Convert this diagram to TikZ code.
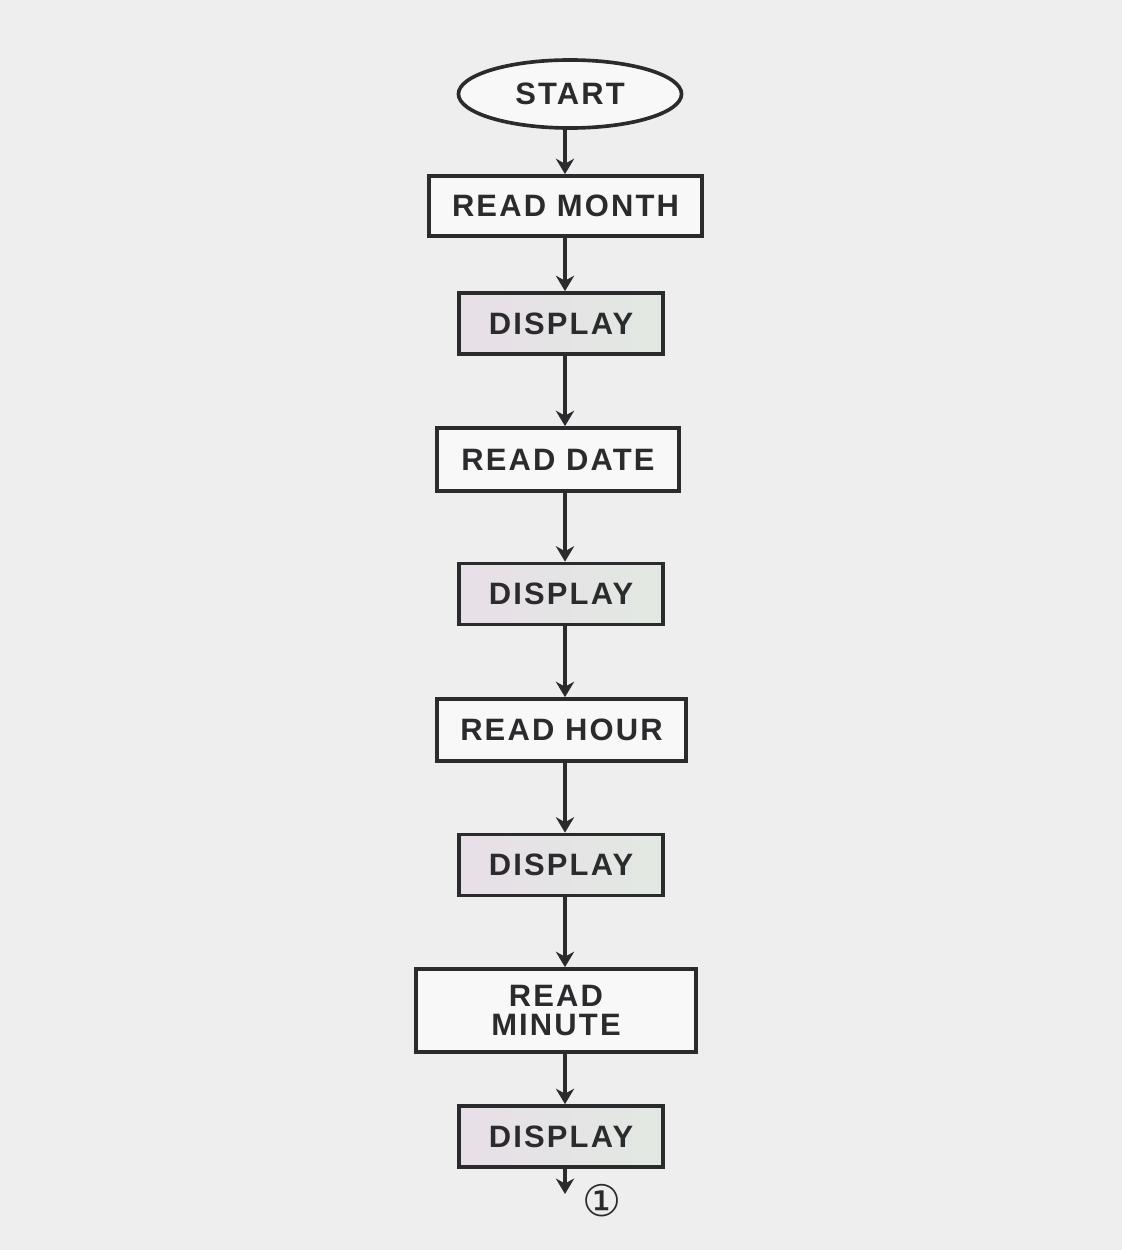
\documentclass[tikz,border=0pt]{standalone}
\usepackage{fontspec}
\setmainfont{Liberation Sans}
\newfontfamily\symfont{DejaVu Sans}
\usetikzlibrary{positioning,shapes.geometric,arrows.meta}
\tikzset{>={Stealth[length=11pt,width=13pt]}}
\definecolor{paper}{HTML}{EFEEEF}
\definecolor{ink}{HTML}{2B2B2E}
\definecolor{displ}{HTML}{E8DFE8}
\definecolor{dispr}{HTML}{E2E9E2}
\tikzset{
  lbl/.style={text=ink, font=\bfseries\fontsize{22}{21}\selectfont\addfontfeature{LetterSpace=7}},
  stepbox/.style={lbl, draw=ink, line width=2.6pt, fill=white!60!paper, inner sep=0pt, align=center},
  showbox/.style={stepbox, left color=displ, right color=dispr, minimum width=5.1cm, minimum height=1.525cm},
  flow/.style={->, draw=ink, line width=2.6pt},
}

\begin{document}
\begin{tikzpicture}[x=0.025cm,y=-0.025cm]
\fill[paper] (0,0) rectangle (1122,1250);
\coordinate (spine) at (565,0);
\node[stepbox, ellipse, minimum width=5.575cm, minimum height=1.7cm] (start) at (570,94) {START};
\node[stepbox, minimum width=6.825cm, minimum height=1.5cm] (month) at (565.5,206) {READ MONTH};
\node[showbox] (disp1) at (561,323.5) {DISPLAY};
\node[stepbox, minimum width=6.05cm, minimum height=1.575cm] (date) at (558,459.5) {READ DATE};
\node[showbox] (disp2) at (561,594) {DISPLAY};
\node[stepbox, minimum width=6.225cm, minimum height=1.55cm] (hour) at (561.5,730) {READ HOUR};
\node[showbox] (disp3) at (561,865) {DISPLAY};
\node[stepbox, minimum width=7cm, minimum height=2.075cm] (minute) at (556,1010.5) {READ\\MINUTE};
\node[showbox] (disp4) at (561,1136.5) {DISPLAY};
\coordinate (out) at (565,1194);
\node[text=ink, font=\symfont\fontsize{31}{33}\selectfont] (conn) at (602,1201) {①};
% main flow
\draw[flow] (start.south -| spine) -- (month.north -| spine);
\draw[flow] (month.south -| spine) -- (disp1.north -| spine);
\draw[flow] (disp1.south -| spine) -- (date.north -| spine);
\draw[flow] (date.south -| spine) -- (disp2.north -| spine);
\draw[flow] (disp2.south -| spine) -- (hour.north -| spine);
\draw[flow] (hour.south -| spine) -- (disp3.north -| spine);
\draw[flow] (disp3.south -| spine) -- (minute.north -| spine);
\draw[flow] (minute.south -| spine) -- (disp4.north -| spine);
\draw[flow] (disp4.south -| spine) -- (out);
\end{tikzpicture}
\end{document}
